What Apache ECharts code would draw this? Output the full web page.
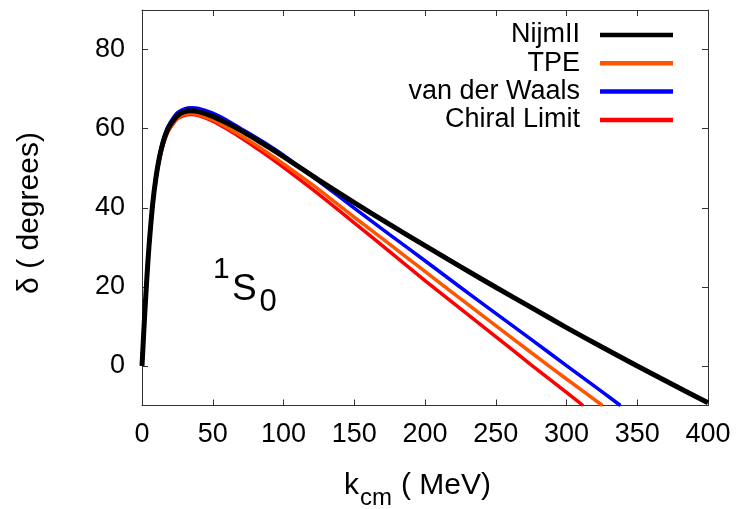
<!DOCTYPE html>
<html>
<head>
<meta charset="utf-8">
<script src="https://cdn.jsdelivr.net/npm/echarts@6/dist/echarts.min.js"></script>
<style>html,body{margin:0;padding:0;background:#fff;}#c{width:738px;height:509px;}</style>
</head>
<body>
<div id="c"></div>
<script>
const seriesNames = ['NijmII', 'TPE', 'van der Waals', 'Chiral Limit'];
const xTicks = [0, 50, 100, 150, 200, 250, 300, 350, 400];
const yTicks = [0, 20, 40, 60, 80];

const kNijm = [0,0.5,1,2,3,4,5,7.5,10,12.5,15,17.5,20,25,30,35,40,50,60,70,80,90,100,125,150,175,200,225,250,275,300,325,350,375,400];
const dNijm = [0,3.4,6.9,13.5,19.7,25.4,30.5,40.8,48.0,53.1,56.7,59.3,61.0,63.3,64.3,64.5,64.3,63.1,61.4,59.5,57.4,55.2,52.9,47.0,41.3,35.8,30.4,25.1,19.9,14.8,9.7,4.8,0.0,-4.7,-9.3];

const kVdw = [0,0.5,1,2,3,4,5,7.5,10,12.5,15,17.5,20,25,30,35,40,50,60,70,80,90,100,125,150,175,200,225,250,275,300,325,338.1];
const dVdw = [0,3.4,6.9,13.5,19.7,25.4,30.6,41.0,48.3,53.5,57.2,59.8,61.6,64.0,65.0,65.3,65.1,63.9,62.1,60.0,57.9,55.7,53.3,46.7,39.9,33.2,26.6,19.9,13.3,6.7,0.1,-6.5,-10];

const kTpe = [0,0.5,1,2,3,4,5,7.5,10,12.5,15,17.5,20,25,30,35,40,50,60,70,80,90,100,125,150,175,200,225,250,275,300,325.4];
const dTpe = [0,3.4,6.9,13.5,19.6,25.2,30.3,40.5,47.6,52.6,56.2,58.7,60.4,62.7,63.6,63.8,63.5,62.2,60.3,58.2,56.0,53.6,51.1,44.6,37.6,30.8,23.9,17.0,10.2,3.4,-3.3,-10];

const kChiral = [0,0.5,1,2,3,4,5,7.5,10,12.5,15,17.5,20,25,30,35,40,50,60,70,80,90,100,125,150,175,200,225,250,275,300,311.7];
const dChiral = [0,3.4,6.9,13.5,19.6,25.2,30.3,40.4,47.5,52.4,56.0,58.5,60.2,62.5,63.4,63.6,63.3,61.9,59.9,57.7,55.3,52.8,50.2,43.4,36.2,28.9,21.6,14.5,7.4,0.3,-6.7,-10];

const zip = (k, d) => k.map((v, i) => [v, d[i]]);
const FONT = 'Liberation Sans';
const axisColor = '#333';

const chart = echarts.init(document.getElementById('c'), null, {renderer: 'canvas'});
chart.setOption({
  animation: false,
  backgroundColor: '#fff',
  grid: {left: 142, right: 30, top: 10, bottom: 103.5, containLabel: false},
  legend: {
    orient: 'vertical', align: 'right', right: 65, top: 21, padding: 0,
    icon: 'rect', itemWidth: 73, itemHeight: 4.5, itemGap: 0.3,
    data: seriesNames,
    textStyle: {fontFamily: FONT, fontSize: 27, color: '#000', lineHeight: 28, padding: [0, 15, 0, 0]}
  },
  xAxis: [
    {type: 'value', min: 0, max: 400, interval: 50, position: 'bottom',
     axisLine: {show: true, onZero: false, lineStyle: {color: axisColor, width: 1}},
     axisTick: {show: true, inside: true, length: 6, lineStyle: {color: axisColor}},
     axisLabel: {show: true, margin: 16, fontFamily: FONT, fontSize: 27, color: '#000'},
     splitLine: {show: false}},
    {type: 'value', min: 0, max: 400, interval: 50, position: 'top',
     axisLine: {show: true, onZero: false, lineStyle: {color: axisColor, width: 1}},
     axisTick: {show: true, inside: true, length: 6, lineStyle: {color: axisColor}},
     axisLabel: {show: false}, splitLine: {show: false}}
  ],
  yAxis: [
    {type: 'value', min: -10, max: 90, position: 'left',
     axisLine: {show: true, onZero: false, lineStyle: {color: axisColor, width: 1}},
     axisTick: {show: true, inside: true, length: 6, customValues: yTicks, lineStyle: {color: axisColor}},
     axisLabel: {show: true, margin: 17, customValues: yTicks, fontFamily: FONT, fontSize: 27, color: '#000'},
     splitLine: {show: false}},
    {type: 'value', min: -10, max: 90, position: 'right',
     axisLine: {show: true, onZero: false, lineStyle: {color: axisColor, width: 1}},
     axisTick: {show: true, inside: true, length: 6, customValues: yTicks, lineStyle: {color: axisColor}},
     axisLabel: {show: false}, splitLine: {show: false}}
  ],
  series: [
    {name: seriesNames[0], type: 'line', data: zip(kNijm, dNijm), symbol: 'none', smooth: 0.25, z: 10,
     lineStyle: {color: '#000000', width: 5}, itemStyle: {color: '#000000'}},
    {name: seriesNames[1], type: 'line', data: zip(kTpe, dTpe), symbol: 'none', smooth: 0.25, z: 4,
     lineStyle: {color: '#ff5500', width: 3.5}, itemStyle: {color: '#ff5500'}},
    {name: seriesNames[2], type: 'line', data: zip(kVdw, dVdw), symbol: 'none', smooth: 0.25, z: 5,
     lineStyle: {color: '#0000ff', width: 3.5}, itemStyle: {color: '#0000ff'}},
    {name: seriesNames[3], type: 'line', data: zip(kChiral, dChiral), symbol: 'none', smooth: 0.25, z: 3,
     lineStyle: {color: '#ff0000', width: 3.5}, itemStyle: {color: '#ff0000'}}
  ],
  graphic: [
    {type: 'text', x: 30, y: 213, rotation: Math.PI / 2,
     style: {text: 'δ ( degrees)', fontFamily: FONT, fontSize: 30, fill: '#000', align: 'center', verticalAlign: 'middle'}},
    {type: 'text', x: 344, y: 486.2,
     style: {text: 'k', fontFamily: FONT, fontSize: 30, fill: '#000', align: 'left', verticalAlign: 'middle'}},
    {type: 'text', x: 360, y: 498.3,
     style: {text: 'cm', fontFamily: FONT, fontSize: 24, fill: '#000', align: 'left', verticalAlign: 'middle'}},
    {type: 'text', x: 401, y: 486.2,
     style: {text: '( MeV)', fontFamily: FONT, fontSize: 30, fill: '#000', align: 'left', verticalAlign: 'middle'}},
    {type: 'text', x: 213, y: 269.5,
     style: {text: '1', fontFamily: FONT, fontSize: 30, fill: '#000', align: 'left', verticalAlign: 'middle'}},
    {type: 'text', x: 232, y: 289.4,
     style: {text: 'S', fontFamily: FONT, fontSize: 37, fill: '#000', align: 'left', verticalAlign: 'middle'}},
    {type: 'text', x: 259.5, y: 302.5,
     style: {text: '0', fontFamily: FONT, fontSize: 31, fill: '#000', align: 'left', verticalAlign: 'middle'}}
  ]
});
</script>
</body>
</html>
